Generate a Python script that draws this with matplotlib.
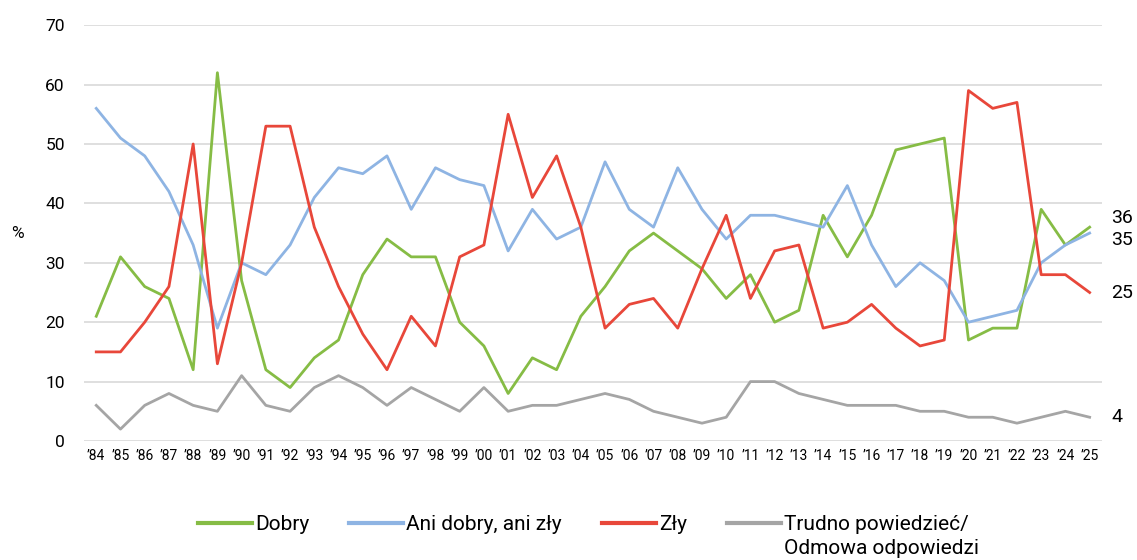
import matplotlib
matplotlib.use("Agg")
import matplotlib.pyplot as plt

plt.rcParams['font.family'] = ['Roboto', 'DejaVu Sans']

years = [f"\u2019{y % 100:02d}" for y in range(1984, 2026)]

dobry = [21, 31, 26, 24, 12, 62, 27, 12, 9, 14, 17, 28, 34, 31, 31, 20, 16, 8, 14, 12, 21,
         26, 32, 35, 32, 29, 24, 28, 20, 22, 38, 31, 38, 49, 50, 51, 17, 19, 19, 39, 33, 36]
ani = [56, 51, 48, 42, 33, 19, 30, 28, 33, 41, 46, 45, 48, 39, 46, 44, 43, 32, 39, 34, 36,
       47, 39, 36, 46, 39, 34, 38, 38, 37, 36, 43, 33, 26, 30, 27, 20, 21, 22, 30, 33, 35]
zly = [15, 15, 20, 26, 50, 13, 30, 53, 53, 36, 26, 18, 12, 21, 16, 31, 33, 55, 41, 48, 36,
       19, 23, 24, 19, 29, 38, 24, 32, 33, 19, 20, 23, 19, 16, 17, 59, 56, 57, 28, 28, 25]
trudno = [6, 2, 6, 8, 6, 5, 11, 6, 5, 9, 11, 9, 6, 9, 7, 5, 9, 5, 6, 6, 7,
          8, 7, 5, 4, 3, 4, 10, 10, 8, 7, 6, 6, 6, 5, 5, 4, 4, 3, 4, 5, 4]

series = [
    ("Dobry", dobry, "#86bc45"),
    ("Ani dobry, ani zły", ani, "#8eb4e3"),
    ("Zły", zly, "#e8473a"),
    ("Trudno powiedzieć/", trudno, "#a5a5a5"),
]

fig = plt.figure(figsize=(11.37, 5.6), dpi=100)
ax = fig.add_axes([0.074, 0.2125, 0.895, 0.7425])

x = list(range(len(years)))
for name, vals, col in series:
    ax.plot(x, vals, color=col, lw=2.0, label=name)

ax.set_xlim(-0.5, len(years) - 0.5)
ax.set_ylim(0, 70)
ax.set_yticks(range(0, 71, 10))
ax.set_xticks(x)
ax.set_xticklabels(years, fontsize=10)
ax.tick_params(axis='y', labelsize=12.5, length=0, pad=14)
ax.tick_params(axis='x', length=0, pad=6)
ax.grid(axis='y', color='#d9d9d9', lw=1.2)
ax.set_axisbelow(True)
for s in ax.spines.values():
    s.set_visible(False)
ax.set_ylabel('%', fontsize=12.5, rotation=0, labelpad=20, va='center')

# end-of-line values, nudged apart like the original
for vals, dy in [(dobry, 1.5), (ani, -1.2), (zly, 0), (trudno, 0)]:
    ax.annotate(str(vals[-1]), xy=(1.0, vals[-1] + dy), xycoords=('axes fraction', 'data'),
                xytext=(7, 0), textcoords='offset points', va='center', ha='left',
                fontsize=14, annotation_clip=False)

leg = fig.legend(loc='center', bbox_to_anchor=(0.513, 1 - 525 / 560), ncol=4, frameon=False,
                 fontsize=15, handlelength=2.6, columnspacing=1.9, handletextpad=0.15)
for h in leg.legend_handles:
    h.set_linewidth(3)

# second line of the last legend label
fig.canvas.draw()
bb = leg.get_texts()[3].get_window_extent()
fig.text(bb.x0 / fig.bbox.width, (bb.y0 + bb.height / 2 - 23) / fig.bbox.height,
         "Odmowa odpowiedzi", fontsize=15, va='center', ha='left')

fig.savefig('out.png', dpi=100)
